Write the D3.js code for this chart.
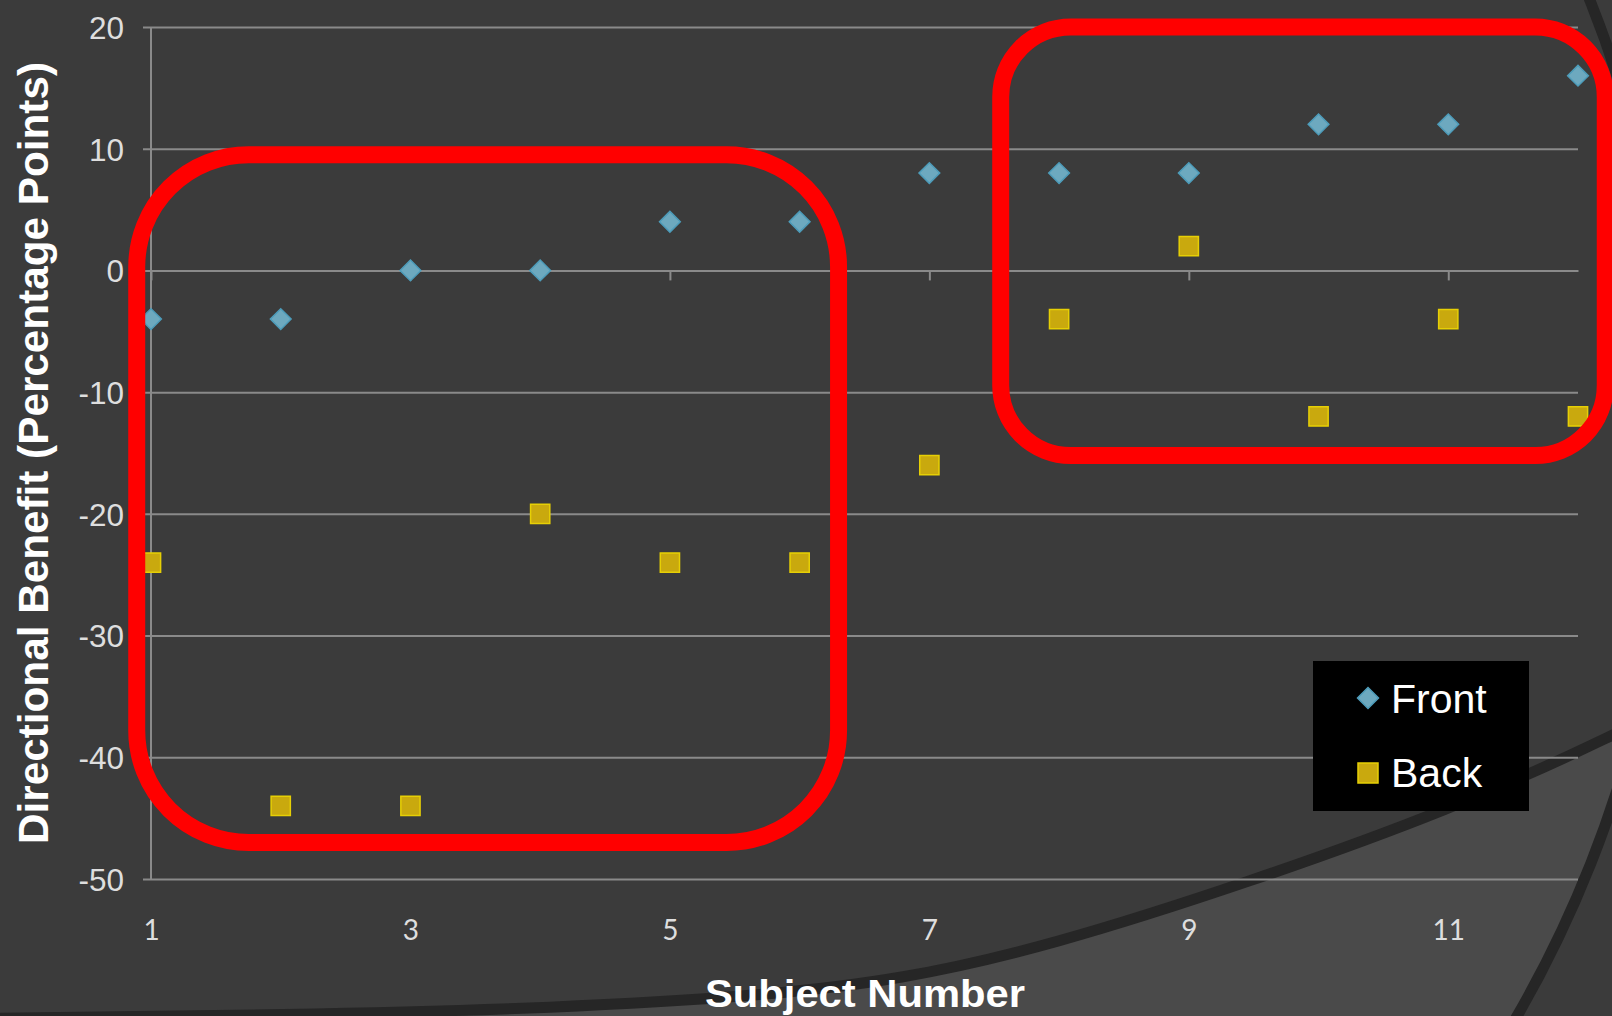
<!DOCTYPE html>
<html>
<head>
<meta charset="utf-8">
<script src="https://cdn.jsdelivr.net/npm/d3@7"></script>
<style>
  html, body { margin: 0; padding: 0; background: #3b3b3b; overflow: hidden; }
  svg { display: block; }
</style>
</head>
<body>
<svg id="chart" width="1612" height="1016"></svg>
<script>
// Subject numbers and directional benefit per listening direction
const subjects = [1, 2, 3, 4, 5, 6, 7, 8, 9, 10, 11, 12];
const frontValues = [-4, -4, 0, 0, 4, 4, 8, 8, 8, 12, 12, 16];
const backValues = [-24, -44, -44, -20, -24, -24, -16, -4, 2, -12, -4, -12];
const seriesNames = ["Front", "Back"];
const yTicks = [20, 10, 0, -10, -20, -30, -40, -50];
const xTicks = [1, 3, 5, 7, 9, 11];
const xTitle = "Subject Number";
const yTitle = "Directional Benefit (Percentage Points)";

// Highlight outlines, in data units (subject / percentage points)
const groupLeft = { x0: 0.89, x1: 6.30, y0: 9.5, y1: -47.0, r: 112 };
const groupRight = { x0: 7.55, x1: 12.21, y0: 20.0, y1: -15.2, r: 70 };

const W = 1612, H = 1016;
const svg = d3.select("#chart");

const x = d3.scaleLinear().domain([1, 12]).range([151, 1578]);
const y = d3.scaleLinear().domain([-50, 20]).range([879, 27]);

// ---- slide backdrop: lighter swoosh bounded by two dark arcs ----
const bg = svg.append("g");
bg.append("rect").attr("width", W).attr("height", H).attr("fill", "#3b3b3b");

const ring = { cx: 505, cy: 433, r: 1168 };
const swoosh = [[-60, 1019], [300, 1015], [560, 1008], [760, 996], [900, 980],
                [1050, 946], [1250, 882], [1450, 810], [1612, 737], [1720, 680]];

const defs = svg.append("defs");
defs.append("clipPath").attr("id", "ringClip")
  .append("circle").attr("cx", ring.cx).attr("cy", ring.cy).attr("r", ring.r);

const swooshLine = d3.line().curve(d3.curveBasis);
const swooshArea = d3.area().curve(d3.curveBasis).y0(H + 40);

bg.append("path")
  .attr("d", swooshArea(swoosh))
  .attr("clip-path", "url(#ringClip)")
  .attr("fill", "#4a4a4a");
bg.append("path")
  .attr("d", swooshLine(swoosh))
  .attr("fill", "none").attr("stroke", "#262626").attr("stroke-width", 11);
bg.append("circle")
  .attr("cx", ring.cx).attr("cy", ring.cy).attr("r", ring.r)
  .attr("fill", "none").attr("stroke", "#262626").attr("stroke-width", 11);

// ---- gridlines with y tick labels ----
const gridLeft = 143;
const yAxis = d3.axisLeft(y)
  .tickValues(yTicks)
  .tickSizeInner(-(x.range()[1] - gridLeft))
  .tickSizeOuter(0)
  .tickPadding(19)
  .tickFormat(d => String(d));

const gy = svg.append("g").attr("transform", `translate(${gridLeft},0)`).call(yAxis);
gy.select(".domain").remove();
gy.selectAll(".tick line").attr("stroke", "#8a8a8a").attr("stroke-width", 2);
gy.selectAll(".tick text")
  .attr("fill", "#dedede")
  .attr("font-family", "'Liberation Sans', Arial, sans-serif")
  .attr("font-size", 31.5)
  .attr("dy", "0.36em");

// vertical axis line
svg.append("line")
  .attr("x1", x(1)).attr("x2", x(1))
  .attr("y1", y(20)).attr("y2", y(-50))
  .attr("stroke", "#8a8a8a").attr("stroke-width", 2);

// horizontal axis crossing at zero, ticks pointing down
const xAxis = d3.axisBottom(x).tickValues(xTicks).tickSizeInner(10).tickSizeOuter(0).tickFormat("");
const gx = svg.append("g").attr("transform", `translate(0,${y(0)})`).call(xAxis);
gx.select(".domain").attr("stroke", "#8a8a8a").attr("stroke-width", 2);
gx.selectAll(".tick line").attr("stroke", "#8a8a8a").attr("stroke-width", 2);

// x tick labels placed below the plot
const xLabels = d3.axisBottom(x).tickValues(xTicks).tickSize(0).tickPadding(0);
const gxl = svg.append("g").attr("transform", `translate(0,${y(-50)})`).call(xLabels);
gxl.select(".domain").remove();
gxl.selectAll(".tick text")
  .attr("y", 61).attr("dy", 0)
  .attr("fill", "#dedede")
  .attr("font-family", "Lato, 'Open Sans', sans-serif")
  .attr("font-size", 28);

// ---- markers ----
const diamond = d3.symbol().type(d3.symbolSquare).size(215);
const square = d3.symbol().type(d3.symbolSquare).size(370);

svg.append("g").selectAll("path")
  .data(subjects.map((s, i) => ({ s, v: frontValues[i] })))
  .join("path")
  .attr("d", diamond)
  .attr("transform", d => `translate(${x(d.s)},${y(d.v)}) rotate(45)`)
  .attr("fill", "#6da9bf").attr("stroke", "#4d9cba").attr("stroke-width", 1.5);

svg.append("g").selectAll("path")
  .data(subjects.map((s, i) => ({ s, v: backValues[i] })))
  .join("path")
  .attr("d", square)
  .attr("transform", d => `translate(${x(d.s)},${y(d.v)})`)
  .attr("fill", "#c9a90e").attr("stroke", "#e6cf05").attr("stroke-width", 1.5);

// ---- axis titles ----
svg.append("text")
  .attr("x", 865).attr("y", 1007)
  .attr("text-anchor", "middle")
  .attr("font-family", "'Liberation Sans', Arial, sans-serif")
  .attr("font-weight", "bold")
  .attr("font-size", 38)
  .attr("textLength", 320).attr("lengthAdjust", "spacingAndGlyphs")
  .attr("fill", "#ffffff")
  .text(xTitle);

svg.append("text")
  .attr("transform", "translate(48,453) rotate(-90)")
  .attr("text-anchor", "middle")
  .attr("font-family", "'Liberation Sans', Arial, sans-serif")
  .attr("font-weight", "bold")
  .attr("font-size", 42)
  .attr("textLength", 782).attr("lengthAdjust", "spacingAndGlyphs")
  .attr("fill", "#ffffff")
  .text(yTitle);

// ---- legend ----
const legend = svg.append("g").attr("transform", "translate(1313,661)");
legend.append("rect").attr("width", 216).attr("height", 150).attr("fill", "#000000");
legend.append("path").attr("d", d3.symbol().type(d3.symbolSquare).size(220))
  .attr("transform", "translate(55,37) rotate(45)")
  .attr("fill", "#6da9bf").attr("stroke", "#4d9cba").attr("stroke-width", 1.5);
legend.append("path").attr("d", d3.symbol().type(d3.symbolSquare).size(400))
  .attr("transform", "translate(55,112)")
  .attr("fill", "#c9a90e").attr("stroke", "#e6cf05").attr("stroke-width", 1.5);
legend.selectAll("text.lbl")
  .data(seriesNames)
  .join("text")
  .attr("class", "lbl")
  .attr("x", 78)
  .attr("y", (d, i) => 52 + i * 74)
  .attr("font-family", "'Liberation Sans', Arial, sans-serif")
  .attr("font-size", 41)
  .attr("fill", "#ffffff")
  .text(d => d);

// ---- highlight outlines around the two subject groups ----
const hl = svg.append("g").attr("fill", "none").attr("stroke", "#ff0000").attr("stroke-width", 17);
hl.selectAll("rect")
  .data([groupLeft, groupRight])
  .join("rect")
  .attr("x", g => x(g.x0))
  .attr("y", g => y(g.y0))
  .attr("width", g => x(g.x1) - x(g.x0))
  .attr("height", g => y(g.y1) - y(g.y0))
  .attr("rx", g => g.r).attr("ry", g => g.r);
</script>
</body>
</html>
